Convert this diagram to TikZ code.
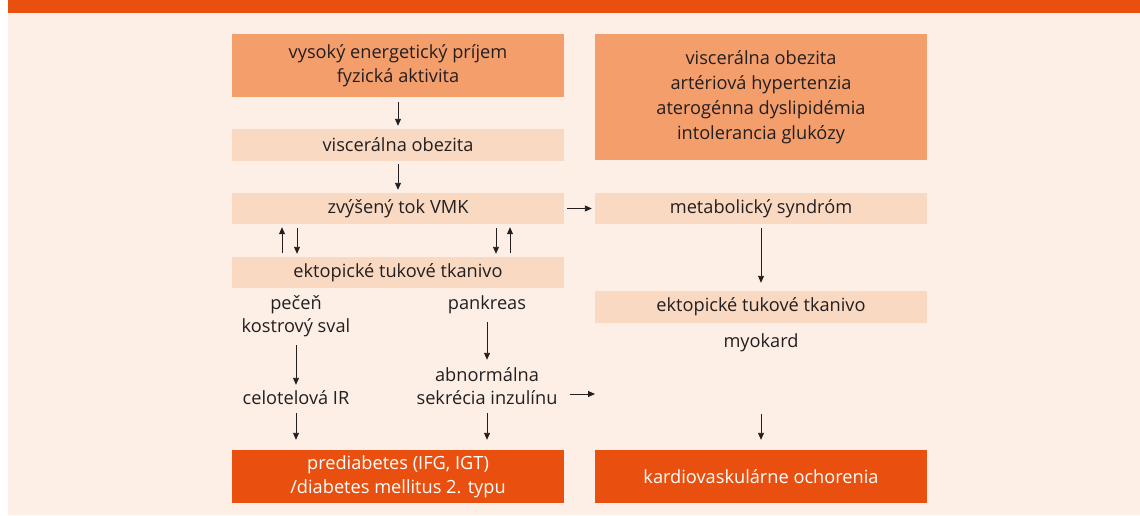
\documentclass[tikz,border=0pt]{standalone}
\usepackage{fontspec}
\setmainfont{Open Sans}
\usetikzlibrary{arrows.meta}
\definecolor{bgc}{HTML}{FDEFE6}
\definecolor{topc}{HTML}{E9500F}
\definecolor{midc}{HTML}{F49E6C}
\definecolor{lightc}{HTML}{FAD9C2}
\definecolor{txtc}{HTML}{231F20}
\tikzset{
  box/.style={rectangle, inner sep=0pt, minimum width=332pt, text=txtc, align=center,
    font=\fontsize{18.2}{24}\selectfont},
  darkbox/.style={box, fill=midc},
  lightbox/.style={box, fill=lightc},
  endbox/.style={box, fill=topc, text=white},
  plain/.style={rectangle, inner sep=0pt, text=txtc, align=center,
    font=\fontsize{18.2}{23}\selectfont},
  arr/.style={-{Triangle[length=7pt,width=6pt]}, line width=0.9pt, draw=txtc},
}
\begin{document}
\begin{tikzpicture}[x=1pt,y=-1pt]
\useasboundingbox (0,0) rectangle (1140,515);
\fill[bgc] (8,0) rectangle (1140,515);
\fill[topc] (8,0) rectangle (1140,13);

\node[darkbox, minimum height=63pt] (b1) at (398,65.5) {vysoký energetický príjem\\fyzická aktivita};
\node[darkbox, minimum height=126pt, font=\fontsize{18.2}{25}\selectfont] (tr) at (761,97) {viscerálna obezita\\artériová hypertenzia\\aterogénna dyslipidémia\\intolerancia glukózy};
\node[lightbox, minimum height=32pt] (vo) at (398,145) {viscerálna obezita};
\node[lightbox, minimum height=31pt] (vmk) at (398,208.5) {zvýšený tok VMK};
\node[lightbox, minimum height=31pt] (ekt) at (398,272.5) {ektopické tukové tkanivo};
\node[lightbox, minimum height=31pt] (ms) at (761,208.5) {metabolický syndróm};
\node[lightbox, minimum height=32pt] (ekt2) at (761,307) {ektopické tukové tkanivo};
\node[endbox, minimum height=53pt] (pre) at (398,476.5) {prediabetes (IFG, IGT)\\/diabetes mellitus 2. typu};
\node[endbox, minimum height=53pt] (kv) at (761,476.5) {kardiovaskulárne ochorenia};

\node[plain, minimum height=57pt] (pec) at (296,316.5) {pečeň\\kostrový sval};
\node[plain, minimum height=26pt] (cel) at (296,398) {celotelová IR};
\node[plain, minimum height=34pt] (pan) at (487,305) {pankreas};
\node[plain, minimum height=53pt, minimum width=166pt] (abn) at (487,386.5) {abnormálna\\sekrécia inzulínu};
\node[plain, minimum height=20pt] (myo) at (761,343) {myokard};
\coordinate (atip) at (595,394);

\draw[arr, shorten <=5pt, shorten >=3pt] (b1) -- (vo);
\draw[arr, shorten <=3pt, shorten >=3pt] (vo) -- (vmk);
\draw[arr, shorten <=3pt, shorten >=3pt] (vmk) -- (ms);
\draw[arr, shorten <=4pt, shorten >=3pt] ([xshift=-116pt]ekt.north) -- ([xshift=-116pt]vmk.south);
\draw[arr, shorten <=4pt, shorten >=3pt] ([xshift=-101pt]vmk.south) -- ([xshift=-101pt]ekt.north);
\draw[arr, shorten <=4pt, shorten >=3pt] ([xshift=98pt]vmk.south) -- ([xshift=98pt]ekt.north);
\draw[arr, shorten <=4pt, shorten >=3pt] ([xshift=112pt]ekt.north) -- ([xshift=112pt]vmk.south);
\draw[arr, shorten <=4pt, shorten >=8pt] (ms) -- (ekt2);
\draw[arr] (pec.south) -- (cel.north);
\draw[arr, shorten <=2pt, shorten >=10pt] (cel.south) -- (cel.south |- pre.north);
\draw[arr] (pan.south) -- (abn.north);
\draw[arr, shorten >=10pt] (abn.south) -- (abn.south |- pre.north);
\draw[arr] ([yshift=-7.5pt]abn.east) -- (atip);
\draw[arr, shorten <=61pt, shorten >=10pt] (myo.south) -- (kv.north);
\end{tikzpicture}
\end{document}
